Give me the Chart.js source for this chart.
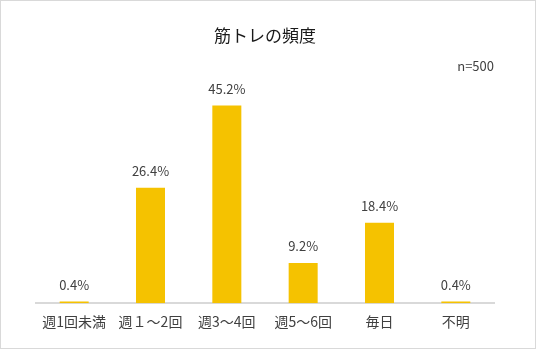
<!DOCTYPE html>
<html>
<head>
<meta charset="utf-8">
<script src="https://cdn.jsdelivr.net/npm/chart.js@4"></script>
<style>
  body { margin: 0; background: #fff; }
  #wrap { width: 536px; height: 349px; }
</style>
</head>
<body>
<div id="wrap"><canvas id="kinChart" width="536" height="349"></canvas></div>
<script>
// datos del grafico
const categorias = ['週1回未満', '週１～2回', '週3～4回', '週5～6回', '毎日', '不明'];
const porcentajes = [0.4, 26.4, 45.2, 9.2, 18.4, 0.4];
const titulo = '筋トレの頻度';
const muestra = 'n=500';

const fuente = '"Noto Sans CJK JP", "Noto Sans", sans-serif';

// marco gris alrededor
const marco = {
  id: 'marco',
  beforeDraw(chart) {
    const ctx = chart.ctx;
    ctx.save();
    ctx.fillStyle = '#fff';
    ctx.fillRect(0, 0, chart.width, chart.height);
    ctx.strokeStyle = '#d9d9d9';
    ctx.lineWidth = 1;
    ctx.strokeRect(0.5, 0.5, chart.width - 1, chart.height - 1);
    ctx.restore();
  }
};

// etiquetas de valor encima de cada barra
const etiquetas = {
  id: 'etiquetas',
  afterDatasetsDraw(chart) {
    const ctx = chart.ctx;
    const meta = chart.getDatasetMeta(0);
    ctx.save();
    ctx.font = '13px ' + fuente;
    ctx.fillStyle = '#404040';
    ctx.textAlign = 'center';
    ctx.textBaseline = 'bottom';
    meta.data.forEach((bar, i) => {
      ctx.fillText(porcentajes[i].toFixed(1) + '%', bar.x, bar.y - 10);
    });
    ctx.restore();
  }
};

new Chart(document.getElementById('kinChart'), {
  type: 'bar',
  data: {
    labels: categorias,
    datasets: [{
      data: porcentajes,
      backgroundColor: '#f5c200',
      borderWidth: 0,
      categoryPercentage: 1,
      barPercentage: 0.38
    }]
  },
  options: {
    responsive: false,
    animation: false,
    events: [],
    layout: { padding: { top: 20, left: 36, right: 42, bottom: 17 } },
    plugins: {
      legend: { display: false },
      tooltip: { enabled: false },
      title: {
        display: true,
        text: titulo,
        color: '#1a1a1a',
        font: { size: 17, family: fuente, weight: 'normal' },
        padding: { top: 5, bottom: 13 }
      },
      subtitle: {
        display: true,
        text: muestra,
        align: 'end',
        color: '#404040',
        font: { size: 13, family: fuente },
        padding: { top: 0, bottom: 3 }
      }
    },
    scales: {
      x: {
        grid: { display: false },
        border: { display: true, color: '#d9d9d9', width: 2 },
        ticks: { color: '#404040', font: { size: 14, family: fuente }, padding: 2 }
      },
      y: {
        display: false,
        min: 0,
        max: 51.7
      }
    }
  },
  plugins: [marco, etiquetas]
});
</script>
</body>
</html>
